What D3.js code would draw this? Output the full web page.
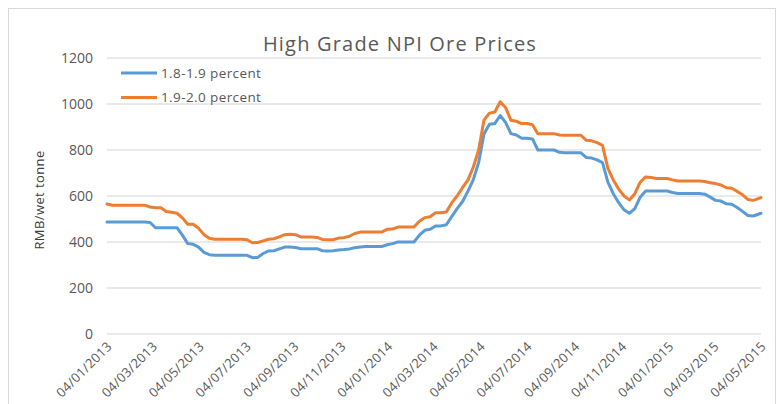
<!DOCTYPE html>
<html>
<head>
<meta charset="utf-8">
<script src="https://cdn.jsdelivr.net/npm/d3@7"></script>
<style>
  body { margin: 0; background: #fff; }
  svg text { font-family: "Open Sans", "Liberation Sans", sans-serif; fill: #595959; }
</style>
</head>
<body>
<svg id="chart" width="780" height="404"></svg>
<script>
var w = 780;
var h = 404;

// weekly price dates (dd/mm style shown on axis)
var dates = [
  "2013-01-04","2013-01-11","2013-01-18","2013-01-25","2013-02-01","2013-02-08","2013-02-15","2013-02-22",
  "2013-03-01","2013-03-08","2013-03-15","2013-03-22","2013-03-29","2013-04-05","2013-04-12","2013-04-19",
  "2013-04-26","2013-05-03","2013-05-10","2013-05-17","2013-05-24","2013-05-31","2013-06-07","2013-06-14",
  "2013-06-21","2013-06-28","2013-07-05","2013-07-12","2013-07-19","2013-07-26","2013-08-02","2013-08-09",
  "2013-08-16","2013-08-23","2013-08-30","2013-09-06","2013-09-13","2013-09-20","2013-09-27","2013-10-04",
  "2013-10-11","2013-10-18","2013-10-25","2013-11-01","2013-11-08","2013-11-15","2013-11-22","2013-11-29",
  "2013-12-06","2013-12-13","2013-12-20","2013-12-27","2014-01-03","2014-01-10","2014-01-17","2014-01-24",
  "2014-01-31","2014-02-07","2014-02-14","2014-02-21","2014-02-28","2014-03-07","2014-03-14","2014-03-21",
  "2014-03-28","2014-04-04","2014-04-11","2014-04-18","2014-04-25","2014-05-02","2014-05-09","2014-05-16",
  "2014-05-23","2014-05-30","2014-06-06","2014-06-13","2014-06-20","2014-06-27","2014-07-04","2014-07-11",
  "2014-07-18","2014-07-25","2014-08-01","2014-08-08","2014-08-15","2014-08-22","2014-08-29","2014-09-05",
  "2014-09-12","2014-09-19","2014-09-26","2014-10-03","2014-10-10","2014-10-17","2014-10-24","2014-10-31",
  "2014-11-07","2014-11-14","2014-11-21","2014-11-28","2014-12-05","2014-12-12","2014-12-19","2014-12-26",
  "2015-01-02","2015-01-09","2015-01-16","2015-01-23","2015-01-30","2015-02-06","2015-02-13","2015-02-20",
  "2015-02-27","2015-03-06","2015-03-13","2015-03-20","2015-03-27","2015-04-03","2015-04-10","2015-04-17",
  "2015-04-24","2015-05-04"
];

// 1.8-1.9 percent
var low = [
  487,487,487,487,487,487,487,487,485,462,462,462,462,462,430,393,
  390,378,355,345,342,342,342,342,342,342,342,332,333,350,361,362,
  370,378,378,376,371,371,371,371,362,361,362,365,367,370,375,378,
  380,380,380,380,388,393,400,400,400,400,430,451,455,470,470,475,
  510,545,575,620,670,745,870,912,915,950,920,871,865,851,851,848,
  800,800,800,800,790,788,788,788,788,767,765,757,745,660,610,571,
  540,525,545,595,622,622,622,622,622,615,611,611,611,611,611,608,
  595,581,578,566,564,550,533,515,513,525
];

// 1.9-2.0 percent
var high = [
  565,560,560,560,560,560,560,560,552,549,549,533,529,525,505,477,
  477,460,432,416,412,412,412,412,412,412,410,397,398,405,412,414,
  422,432,434,432,422,422,422,420,411,410,410,417,419,425,437,443,
  443,443,443,443,455,456,465,465,465,465,490,506,510,527,527,530,
  570,600,636,669,725,800,930,960,965,1010,985,929,925,915,915,910,
  871,871,871,871,865,864,864,864,864,842,840,832,820,720,670,630,
  600,583,610,660,683,680,676,676,676,670,665,665,665,665,665,663,
  658,654,648,636,634,620,605,585,581,593
];

var seriesNames = ["1.8-1.9 percent", "1.9-2.0 percent"];
var colors = ["#5b9bd5", "#ed7d31"];
var yTicks = [0, 200, 400, 600, 800, 1000, 1200];
var xTickDates = [
  "2013-01-04","2013-03-04","2013-05-04","2013-07-04","2013-09-04","2013-11-04","2014-01-04","2014-03-04",
  "2014-05-04","2014-07-04","2014-09-04","2014-11-04","2015-01-04","2015-03-04","2015-05-04"
];

var parse = d3.timeParse("%Y-%m-%d");
var fmt = d3.timeFormat("%d/%m/%Y");

var plotLeft = 107, plotRight = 761, plotTop = 58, plotBottom = 334;

var svg = d3.select("#chart");

// chart frame
svg.append("rect")
  .attr("x", 8.5).attr("y", 8.5)
  .attr("width", 767).attr("height", 400)
  .attr("fill", "#fff")
  .attr("stroke", "#d9d9d9");

var x = d3.scaleTime()
  .domain([parse(dates[0]), parse(dates[dates.length - 1])])
  .range([plotLeft, plotRight]);

var y = d3.scaleLinear()
  .domain([0, 1200])
  .range([plotBottom, plotTop]);

// gridlines
svg.append("g")
  .selectAll("line")
  .data(yTicks)
  .enter()
  .append("line")
  .attr("x1", plotLeft).attr("x2", plotRight)
  .attr("y1", d => y(d)).attr("y2", d => y(d))
  .attr("stroke", "#e3e3e3")
  .attr("stroke-width", 1.5);

// y axis labels
var yAxis = svg.append("g")
  .attr("transform", "translate(" + (plotLeft - 14) + ",0)")
  .call(d3.axisLeft(y).tickValues(yTicks).tickFormat(d3.format("d")).tickSize(0).tickPadding(0));
yAxis.select(".domain").remove();
yAxis.selectAll("text")
  .style("font-size", "14px")
  .attr("dy", "0.35em");

// x axis labels
var xAxis = svg.append("g")
  .attr("transform", "translate(2," + (plotBottom + 10) + ")")
  .call(d3.axisBottom(x).tickValues(xTickDates.map(parse)).tickFormat(fmt).tickSize(0).tickPadding(0));
xAxis.select(".domain").remove();
xAxis.selectAll("text")
  .style("font-size", "13px")
  .style("letter-spacing", "0.3px")
  .attr("text-anchor", "end")
  .attr("dy", "0.35em")
  .attr("transform", "rotate(-45)");

// y axis title
svg.append("text")
  .attr("transform", "translate(44," + ((plotTop + plotBottom) / 2 + 4) + ") rotate(-90)")
  .attr("text-anchor", "middle")
  .style("font-size", "13px")
  .style("letter-spacing", "0.4px")
  .style("fill", "#404040")
  .text("RMB/wet tonne");

// title
svg.append("text")
  .attr("x", 400).attr("y", 51)
  .attr("text-anchor", "middle")
  .style("font-size", "20px")
  .style("letter-spacing", "1.2px")
  .text("High Grade NPI Ore Prices");

// lines
var line = d3.line()
  .x((d, i) => x(parse(dates[i])))
  .y(d => y(d));

[low, high].forEach(function(vals, k) {
  svg.append("path")
    .datum(vals)
    .attr("d", line)
    .attr("fill", "none")
    .attr("stroke", colors[k])
    .attr("stroke-width", 3)
    .attr("stroke-linejoin", "round")
    .attr("stroke-linecap", "round");
});

// legend
var legend = svg.append("g");
seriesNames.forEach(function(name, k) {
  var ly = 73 + k * 24.5;
  legend.append("line")
    .attr("x1", 121).attr("x2", 157)
    .attr("y1", ly).attr("y2", ly)
    .attr("stroke", colors[k])
    .attr("stroke-width", 3);
  legend.append("text")
    .attr("x", 161).attr("y", ly)
    .attr("dy", "0.35em")
    .style("font-size", "13.5px")
    .style("letter-spacing", "0.4px")
    .text(name);
});
</script>
</body>
</html>
